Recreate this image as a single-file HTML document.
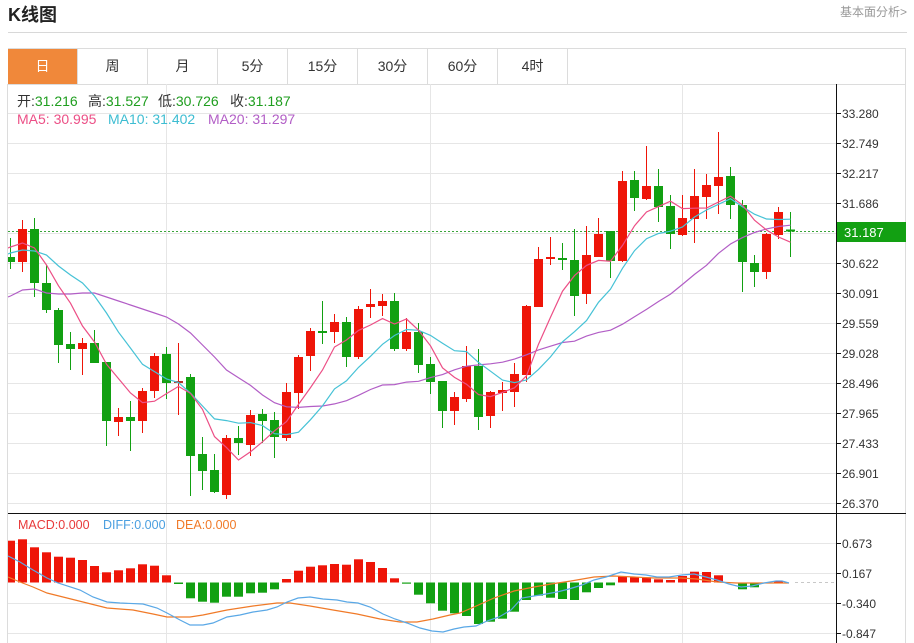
<!DOCTYPE html>
<html><head><meta charset="utf-8"><style>
html,body{margin:0;padding:0;background:#fff;}
svg{display:block;}
text{font-family:"Liberation Sans","Noto Sans CJK SC",sans-serif;}
</style></head><body>
<svg width="914" height="643" viewBox="0 0 914 643" xmlns="http://www.w3.org/2000/svg">
<defs><clipPath id="pc"><rect x="8" y="85" width="828" height="558"/></clipPath></defs>
<rect width="914" height="643" fill="#fff"/>
<!-- header -->
<text x="8" y="21" font-size="18" font-weight="bold" fill="#222">K线图</text>
<text x="907" y="16" font-size="12" fill="#999" text-anchor="end">基本面分析&gt;</text>
<line x1="8" y1="32.5" x2="907" y2="32.5" stroke="#d8d8d8"/>
<!-- tabs -->
<rect x="8.5" y="48.5" width="897" height="36" fill="#fff" stroke="#dcdcdc"/>
<rect x="8" y="49" width="69.5" height="35" fill="#f0883a"/>
<g stroke="#dcdcdc"><line x1="147.5" y1="49" x2="147.5" y2="84"/><line x1="217.5" y1="49" x2="217.5" y2="84"/><line x1="287.5" y1="49" x2="287.5" y2="84"/><line x1="357.5" y1="49" x2="357.5" y2="84"/><line x1="427.5" y1="49" x2="427.5" y2="84"/><line x1="497.5" y1="49" x2="497.5" y2="84"/><line x1="567.5" y1="49" x2="567.5" y2="84"/><line x1="77.5" y1="49" x2="77.5" y2="84"/></g>
<g font-size="14" fill="#333" text-anchor="middle">
<text x="42.5" y="71" fill="#fff">日</text><text x="112.5" y="71">周</text><text x="182.5" y="71">月</text><text x="252.5" y="71">5分</text><text x="322.5" y="71">15分</text><text x="392.5" y="71">30分</text><text x="462.5" y="71">60分</text><text x="532.5" y="71">4时</text>
</g>
<!-- borders -->
<line x1="7.5" y1="84" x2="7.5" y2="643" stroke="#dcdcdc"/>
<line x1="905.5" y1="84" x2="905.5" y2="643" stroke="#dcdcdc"/>
<!-- grid -->
<g stroke="#e6e6e6">
<line x1="8" y1="113.5" x2="836" y2="113.5"/><line x1="8" y1="143.5" x2="836" y2="143.5"/><line x1="8" y1="173.5" x2="836" y2="173.5"/><line x1="8" y1="203.5" x2="836" y2="203.5"/><line x1="8" y1="233.5" x2="836" y2="233.5"/><line x1="8" y1="263.5" x2="836" y2="263.5"/><line x1="8" y1="293.5" x2="836" y2="293.5"/><line x1="8" y1="323.5" x2="836" y2="323.5"/><line x1="8" y1="353.5" x2="836" y2="353.5"/><line x1="8" y1="383.5" x2="836" y2="383.5"/><line x1="8" y1="413.5" x2="836" y2="413.5"/><line x1="8" y1="443.5" x2="836" y2="443.5"/><line x1="8" y1="473.5" x2="836" y2="473.5"/><line x1="8" y1="503.5" x2="836" y2="503.5"/>
<line x1="8" y1="543.5" x2="836" y2="543.5"/><line x1="8" y1="573.5" x2="836" y2="573.5"/><line x1="8" y1="603.5" x2="836" y2="603.5"/><line x1="8" y1="633.5" x2="836" y2="633.5"/>
<line x1="166.5" y1="84" x2="166.5" y2="643"/><line x1="430.5" y1="84" x2="430.5" y2="643"/><line x1="682.5" y1="84" x2="682.5" y2="643"/>
</g>
<!-- info text -->
<g font-size="14">
<text x="17" y="106" fill="#333">开:<tspan fill="#1f9e1f">31.216</tspan></text>
<text x="88" y="106" fill="#333">高:<tspan fill="#1f9e1f">31.527</tspan></text>
<text x="158" y="106" fill="#333">低:<tspan fill="#1f9e1f">30.726</tspan></text>
<text x="230" y="106" fill="#333">收:<tspan fill="#1f9e1f">31.187</tspan></text>
<text x="17" y="124" fill="#ec4f86">MA5: 30.995</text>
<text x="108" y="124" fill="#3dbdd2">MA10: 31.402</text>
<text x="208" y="124" fill="#b25ec6">MA20: 31.297</text>
</g>
<g font-size="12.5">
<text x="18" y="529" fill="#e83a3a">MACD:0.000</text>
<text x="103" y="529" fill="#4a9fe0">DIFF:0.000</text>
<text x="176" y="529" fill="#f07a28">DEA:0.000</text>
</g>
<g clip-path="url(#pc)">
<!-- current price line -->
<line x1="8" y1="231.5" x2="836" y2="231.5" stroke="#3aa53a" stroke-dasharray="2,2"/>
<line x1="795" y1="582.5" x2="836" y2="582.5" stroke="#c8c8c8" stroke-dasharray="3,3"/>
<!-- red candles -->
<path fill="none" stroke="#ee1508" d="M22.5 220V272M82.5 338V375M118.5 408V436M142.5 388V433M154.5 353V398M178.5 343V415M226.5 435V499M250.5 410V456M286.5 383V441M298.5 355V409M310.5 328V371M334.5 314V343M358.5 306V359M370.5 289V318M382.5 294V316M406.5 318V351M454.5 392V425M466.5 346V402M490.5 391V428M502.5 382V411M514.5 363V407M526.5 305V382M538.5 247V307M550.5 237V265M586.5 226V304M598.5 218V257M622.5 171V262M646.5 146V200M682.5 195V236M694.5 169V243M706.5 174V219M718.5 132V214M766.5 233V279M778.5 207V239"/>
<g fill="#ee1508">
<rect x="18" y="229" width="9" height="33"/><rect x="78" y="343" width="9" height="6"/><rect x="114" y="417" width="9" height="5"/><rect x="138" y="391" width="9" height="30"/><rect x="150" y="356" width="9" height="35"/><rect x="174" y="381" width="9" height="2" fill="#b8322a"/><rect x="222" y="438" width="9" height="57"/><rect x="246" y="415" width="9" height="30"/><rect x="282" y="392" width="9" height="46"/><rect x="294" y="357" width="9" height="36"/><rect x="306" y="331" width="9" height="25"/><rect x="330" y="322" width="9" height="10"/><rect x="354" y="309" width="9" height="48"/><rect x="366" y="304" width="9" height="3"/><rect x="378" y="301" width="9" height="5"/><rect x="402" y="332" width="9" height="17"/><rect x="450" y="397" width="9" height="14"/><rect x="462" y="366" width="9" height="33"/><rect x="486" y="392" width="9" height="24"/><rect x="498" y="390" width="9" height="3"/><rect x="510" y="374" width="9" height="18"/><rect x="522" y="306" width="9" height="69"/><rect x="534" y="259" width="9" height="48"/><rect x="546" y="257" width="9" height="2"/><rect x="582" y="255" width="9" height="39"/><rect x="594" y="234" width="9" height="23"/><rect x="618" y="181" width="9" height="80"/><rect x="642" y="186" width="9" height="13"/><rect x="678" y="218" width="9" height="17"/><rect x="690" y="196" width="9" height="23"/><rect x="702" y="185" width="9" height="12"/><rect x="714" y="177" width="9" height="9"/><rect x="762" y="234" width="9" height="38"/><rect x="774" y="212" width="9" height="23"/>
</g>
<!-- green candles -->
<path fill="none" stroke="#12a012" d="M10.5 238V269M34.5 218V297M46.5 265V313M58.5 308V363M70.5 332V370M94.5 330V363M106.5 362V446M130.5 401V451M166.5 347V399M190.5 374V496M202.5 437V490M214.5 454V493M238.5 426V455M262.5 409V443M274.5 412V458M322.5 301V344M346.5 317V367M394.5 293V351M418.5 323V373M430.5 357V394M442.5 381V428M478.5 349V430M562.5 243V270M574.5 229V316M610.5 231V278M634.5 171V211M658.5 169V222M670.5 195V249M730.5 167V219M742.5 200V292M754.5 255V287M790.5 212V257"/>
<g fill="#12a012">
<rect x="6" y="257" width="9" height="5"/><rect x="30" y="229" width="9" height="54"/><rect x="42" y="283" width="9" height="27"/><rect x="54" y="310" width="9" height="35"/><rect x="66" y="344" width="9" height="5"/><rect x="90" y="343" width="9" height="20"/><rect x="102" y="362" width="9" height="59"/><rect x="126" y="417" width="9" height="4"/><rect x="162" y="354" width="9" height="29"/><rect x="186" y="377" width="9" height="79"/><rect x="198" y="454" width="9" height="17"/><rect x="210" y="470" width="9" height="22"/><rect x="234" y="438" width="9" height="5"/><rect x="258" y="414" width="9" height="7"/><rect x="270" y="420" width="9" height="17"/><rect x="318" y="331" width="9" height="2"/><rect x="342" y="322" width="9" height="35"/><rect x="390" y="301" width="9" height="48"/><rect x="414" y="332" width="9" height="33"/><rect x="426" y="364" width="9" height="18"/><rect x="438" y="381" width="9" height="30"/><rect x="474" y="366" width="9" height="51"/><rect x="558" y="258" width="9" height="2"/><rect x="570" y="260" width="9" height="36"/><rect x="606" y="231" width="9" height="30"/><rect x="630" y="180" width="9" height="18"/><rect x="654" y="186" width="9" height="21"/><rect x="666" y="206" width="9" height="28"/><rect x="726" y="176" width="9" height="29"/><rect x="738" y="205" width="9" height="57"/><rect x="750" y="263" width="9" height="9"/><rect x="786" y="229.5" width="9" height="2"/>
</g>
<!-- MA lines -->
<polyline fill="none" stroke="#b25ec6" stroke-width="1.2" points="8,297 10.5,296 22.5,290 34.5,289 46.5,293 58.5,294 70.5,294 82.5,293 94.5,293 106.5,297 118.5,301 130.5,305 142.5,309 154.5,313 166.5,317 178.5,324 190.5,333 202.5,345 214.5,357 226.5,370 238.5,377.7 250.5,385.4 262.5,395 274.5,402.7 286.5,406.8 298.5,407.4 310.5,406.5 322.5,406 334.5,403.9 346.5,400.7 358.5,395.3 370.5,389.5 382.5,385 394.5,384.6 406.5,382.1 418.5,381.3 430.5,377.6 442.5,374.6 454.5,369.8 466.5,366.2 478.5,364.9 490.5,363.8 502.5,362.2 514.5,359.1 526.5,354.8 538.5,349.9 550.5,346.2 562.5,342.5 574.5,341.2 586.5,336.1 598.5,332.4 610.5,330.2 622.5,324.2 634.5,316.7 646.5,309.4 658.5,301.5 670.5,294.1 682.5,284.4 694.5,274.4 706.5,265.3 718.5,253.3 730.5,244 742.5,237.6 754.5,232.5 766.5,228.9 778.5,226.5 790.5,225.2"/>
<polyline fill="none" stroke="#46c2d6" stroke-width="1.2" points="8,254 10.5,253 22.5,250 34.5,251 46.5,255 58.5,266 70.5,275 82.5,283 94.5,296 106.5,313 118.5,332.2 130.5,348.1 142.5,364.3 154.5,371.6 166.5,378.9 178.5,382.5 190.5,393.2 202.5,406 214.5,418.9 226.5,420.6 238.5,423.2 250.5,422.6 262.5,425.6 274.5,433.7 286.5,434.6 298.5,432.2 310.5,419.7 322.5,405.9 334.5,388.9 346.5,380.8 358.5,367.4 370.5,356.3 382.5,344.3 394.5,335.5 406.5,329.5 418.5,330.3 430.5,335.4 442.5,343.2 454.5,350.7 466.5,351.6 478.5,362.4 490.5,371.2 502.5,380.1 514.5,382.6 526.5,380 538.5,369.4 550.5,356.9 562.5,341.8 574.5,331.7 586.5,320.6 598.5,302.3 610.5,289.2 622.5,268.3 634.5,250.7 646.5,238.7 658.5,233.5 670.5,231.2 682.5,227 694.5,217 706.5,210 718.5,204.3 730.5,198.7 742.5,206.8 754.5,214.2 766.5,219 778.5,219.5 790.5,219.2"/>
<polyline fill="none" stroke="#ec4f86" stroke-width="1.2" points="8,248 10.5,247 22.5,243 34.5,248 46.5,265 58.5,285.8 70.5,303.2 82.5,326 94.5,342 106.5,364.2 118.5,378.6 130.5,393 142.5,402.6 154.5,401.2 166.5,393.6 178.5,386.4 190.5,393.4 202.5,409.4 214.5,436.6 226.5,447.6 238.5,460 250.5,451.8 262.5,441.8 274.5,430.8 286.5,421.6 298.5,404.4 310.5,387.6 322.5,370 334.5,347 346.5,340 358.5,330.4 370.5,325 382.5,318.6 394.5,324 406.5,319 418.5,330.2 430.5,345.8 442.5,367.8 454.5,377.4 466.5,384.2 478.5,394.6 490.5,396.6 502.5,392.4 514.5,387.8 526.5,375.8 538.5,344.2 550.5,317.2 562.5,291.2 574.5,275.6 586.5,265.4 598.5,260.4 610.5,261.2 622.5,245.4 634.5,225.8 646.5,212 658.5,206.6 670.5,201.2 682.5,208.6 694.5,208.2 706.5,208 718.5,202 730.5,196.2 742.5,205 754.5,220.2 766.5,230 778.5,237 790.5,242.2"/>
<!-- MACD bars -->
<g fill="#ee1508">
<rect x="6" y="540.7" width="9" height="41.8"/><rect x="18" y="539.3" width="9" height="43.2"/><rect x="30" y="547.3" width="9" height="35.2"/><rect x="42" y="552.3" width="9" height="30.2"/><rect x="54" y="556.7" width="9" height="25.8"/><rect x="66" y="557.7" width="9" height="24.8"/><rect x="78" y="560" width="9" height="22.5"/><rect x="90" y="566" width="9" height="16.5"/><rect x="102" y="572.3" width="9" height="10.2"/><rect x="114" y="570.3" width="9" height="12.2"/><rect x="126" y="568.3" width="9" height="14.2"/><rect x="138" y="564.3" width="9" height="18.2"/><rect x="150" y="565.7" width="9" height="16.8"/><rect x="162" y="575.3" width="9" height="7.2"/>
<rect x="282" y="579" width="9" height="3.5"/><rect x="294" y="570.7" width="9" height="11.8"/><rect x="306" y="566.7" width="9" height="15.8"/><rect x="318" y="565.3" width="9" height="17.2"/><rect x="330" y="564" width="9" height="18.5"/><rect x="342" y="564.7" width="9" height="17.8"/><rect x="354" y="559.3" width="9" height="23.2"/><rect x="366" y="562" width="9" height="20.5"/><rect x="378" y="568" width="9" height="14.5"/><rect x="390" y="578.3" width="9" height="4.2"/>
<rect x="618" y="576" width="9" height="6.5"/><rect x="630" y="577.3" width="9" height="5.2"/><rect x="642" y="577.3" width="9" height="5.2"/><rect x="654" y="579.3" width="9" height="3.2"/><rect x="666" y="580" width="9" height="2.5"/><rect x="678" y="576" width="9" height="6.5"/><rect x="690" y="571.7" width="9" height="10.8"/><rect x="702" y="572" width="9" height="10.5"/><rect x="714" y="575.3" width="9" height="7.2"/><rect x="774" y="581" width="9" height="1.5"/>
</g>
<g fill="#12a012">
<rect x="174" y="582.5" width="9" height="1.5"/><rect x="186" y="582.5" width="9" height="15.8"/><rect x="198" y="582.5" width="9" height="19.2"/><rect x="210" y="582.5" width="9" height="20.2"/><rect x="222" y="582.5" width="9" height="14.2"/><rect x="234" y="582.5" width="9" height="14.2"/><rect x="246" y="582.5" width="9" height="10.8"/><rect x="258" y="582.5" width="9" height="10.2"/><rect x="270" y="582.5" width="9" height="6.8"/>
<rect x="402" y="582.5" width="9" height="1.2"/><rect x="414" y="582.5" width="9" height="12.2"/><rect x="426" y="582.5" width="9" height="20.8"/><rect x="438" y="582.5" width="9" height="28.2"/><rect x="450" y="582.5" width="9" height="30.8"/><rect x="462" y="582.5" width="9" height="33.5"/><rect x="474" y="582.5" width="9" height="41.5"/><rect x="486" y="582.5" width="9" height="39.2"/><rect x="498" y="582.5" width="9" height="36.2"/><rect x="510" y="582.5" width="9" height="29.2"/><rect x="522" y="582.5" width="9" height="17.5"/><rect x="534" y="582.5" width="9" height="13.2"/><rect x="546" y="582.5" width="9" height="15.2"/><rect x="558" y="582.5" width="9" height="16.5"/><rect x="570" y="582.5" width="9" height="17.5"/><rect x="582" y="582.5" width="9" height="9.8"/><rect x="594" y="582.5" width="9" height="5.5"/><rect x="606" y="582.5" width="9" height="2.8"/>
<rect x="738" y="582.5" width="9" height="6.8"/><rect x="750" y="582.5" width="9" height="4.8"/>
</g>
<!-- DIFF / DEA -->
<polyline fill="none" stroke="#f07a28" stroke-width="1.2" points="8,577 20,582 33,587 47,593 67,598 87,603 107,608 133,610 153,614 167,617 180,617 190,617 203,615 227,610 253,606 277,603 290,603 310,606 333,610 357,614 380,619 400,622 417,622 433,619 450,615 460,613 474,607 494,598 514,591 534,587 551,584 571,581 594,577 614,576 634,577 654,578 681,578 697,579 717,582 737,583 754,583 789,583"/>
<polyline fill="none" stroke="#5aa8e6" stroke-width="1.2" points="8,556 20,562 33,570 47,578 58,583 80,590 93,597 107,602 120,603 143,604 157,608 167,613 180,620 190,625 203,625 213,623 227,617 240,615 253,612 267,610 277,607 287,602 298,598 310,597 323,599 337,600 347,602 358,603 370,607 383,614 395,619 407,623 420,628 432,631 443,632 454,629 464,627 476,626 487,621 499,617 511,610 522,598 534,596 546,594 557,592 569,589 582,585 594,580 606,577 621,572 634,574 646,575 657,577 669,577 682,575 694,574 706,577 717,580 729,584 741,587 752,586 764,583 776,581 782,581 789,583"/>
</g>
<!-- axes -->
<line x1="836.5" y1="84" x2="836.5" y2="643" stroke="#111"/>
<line x1="8" y1="513.5" x2="906" y2="513.5" stroke="#111"/>
<g stroke="#111">
<line x1="836" y1="113.5" x2="841" y2="113.5"/><line x1="836" y1="143.5" x2="841" y2="143.5"/><line x1="836" y1="173.5" x2="841" y2="173.5"/><line x1="836" y1="203.5" x2="841" y2="203.5"/><line x1="836" y1="263.5" x2="841" y2="263.5"/><line x1="836" y1="293.5" x2="841" y2="293.5"/><line x1="836" y1="323.5" x2="841" y2="323.5"/><line x1="836" y1="353.5" x2="841" y2="353.5"/><line x1="836" y1="383.5" x2="841" y2="383.5"/><line x1="836" y1="413.5" x2="841" y2="413.5"/><line x1="836" y1="443.5" x2="841" y2="443.5"/><line x1="836" y1="473.5" x2="841" y2="473.5"/><line x1="836" y1="503.5" x2="841" y2="503.5"/>
<line x1="836" y1="543.5" x2="841" y2="543.5"/><line x1="836" y1="573.5" x2="841" y2="573.5"/><line x1="836" y1="603.5" x2="841" y2="603.5"/><line x1="836" y1="633.5" x2="841" y2="633.5"/>
</g>
<g font-size="12" fill="#333">
<text x="842" y="118">33.280</text><text x="842" y="148">32.749</text><text x="842" y="178">32.217</text><text x="842" y="208">31.686</text><text x="842" y="268">30.622</text><text x="842" y="298">30.091</text><text x="842" y="328">29.559</text><text x="842" y="358">29.028</text><text x="842" y="388">28.496</text><text x="842" y="418">27.965</text><text x="842" y="448">27.433</text><text x="842" y="478">26.901</text><text x="842" y="508">26.370</text>
<text x="842" y="548">0.673</text><text x="842" y="578">0.167</text><text x="842" y="608">-0.340</text><text x="842" y="638">-0.847</text>
</g>
<rect x="837" y="222" width="69" height="20" fill="#12a012"/>
<text x="844" y="237" font-size="13" fill="#fff">31.187</text>
</svg>
</body></html>
